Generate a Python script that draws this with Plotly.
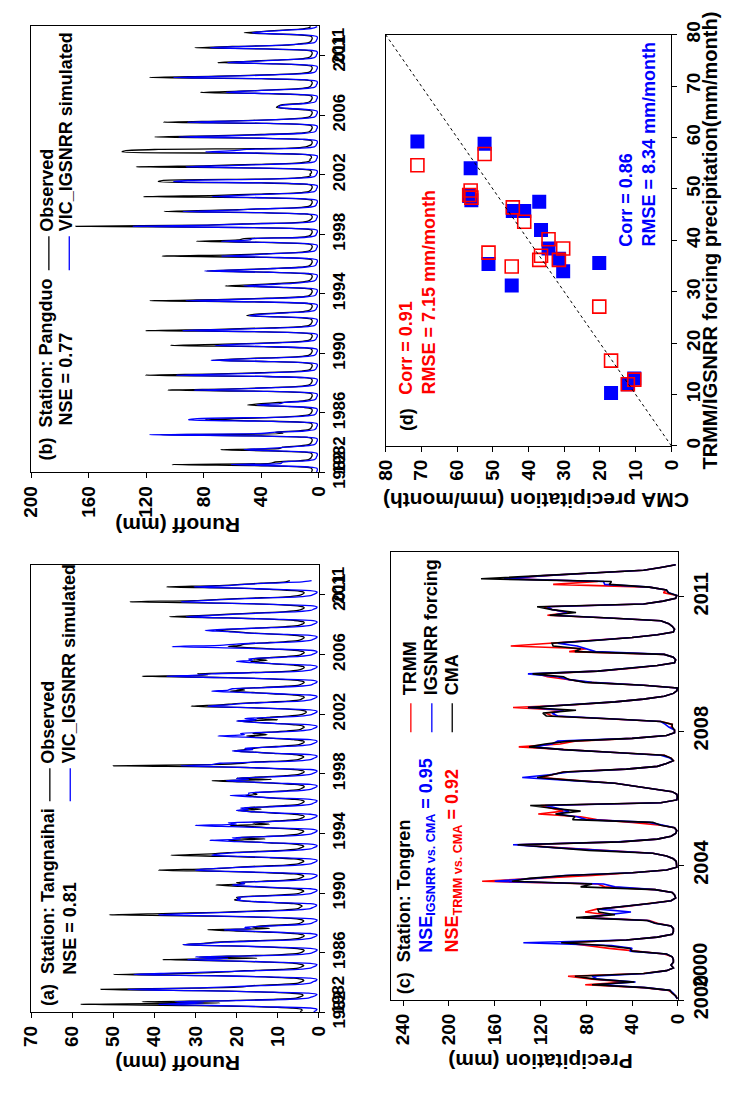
import plotly.graph_objects as go

W, H = 730, 1096
FONT = "Liberation Sans, Arial, sans-serif"


def px(X):
    return X / W


def py(Y):
    return 1 - Y / H


# ---------------- Panel (a) Tangnaihai runoff (mm), monthly 1982-2010 ----------------
a_years = list(range(1982, 2011))
a_observed = [
    [4.5, 4.0, 4.2, 6.5, 14, 30, 58, 24, 43, 22, 10, 5.5],
    [4.5, 3.8, 4.0, 7.0, 15, 28, 53, 30, 18.5, 16, 9, 5.0],
    [4.2, 3.6, 4.0, 6.0, 13, 25, 50, 30, 22.5, 18, 9, 5.0],
    [4.2, 3.6, 4.0, 6.0, 13, 24, 38, 15, 29, 18, 9, 5.0],
    [4.0, 3.5, 3.8, 6.0, 12, 22, 33, 28, 25, 17, 8, 4.8],
    [4.0, 3.5, 3.8, 6.0, 12, 20, 27, 12, 16, 14, 8, 4.8],
    [4.0, 3.6, 4.0, 6.0, 13, 26, 51, 38, 24, 16, 8, 5.0],
    [4.5, 4.0, 4.5, 6.0, 12, 18, 20.5, 19.5, 20, 16, 9, 5.0],
    [4.2, 3.6, 4.0, 6.0, 12, 19, 25, 18, 20, 14, 8, 5.0],
    [4.2, 3.6, 4.0, 6.0, 13, 24, 39, 27, 21, 16, 8, 5.0],
    [4.2, 3.6, 4.0, 6.0, 12, 22, 36, 26, 22, 15, 8, 5.0],
    [4.2, 3.6, 4.0, 6.0, 12, 18, 22, 13, 20, 14, 8, 5.0],
    [4.2, 3.6, 4.0, 6.0, 12, 16, 21.5, 12, 16, 13, 8, 4.8],
    [4.0, 3.5, 3.8, 6.0, 11, 16, 19.7, 14, 18, 13, 8, 4.8],
    [4.0, 3.5, 3.8, 6.0, 11, 15, 17.7, 15, 16, 12, 7.5, 4.6],
    [4.0, 3.5, 3.8, 6.0, 11, 18, 26, 11.5, 20, 14, 8, 4.8],
    [4.0, 3.5, 3.8, 6.0, 12, 22, 50, 26, 18.5, 16, 8, 5.0],
    [4.2, 3.6, 4.0, 6.0, 11, 16, 20.5, 18, 16, 13, 8, 4.8],
    [4.0, 3.5, 3.8, 6.0, 11, 15, 17.5, 12.5, 16, 12, 7.5, 4.6],
    [4.0, 3.5, 3.8, 6.0, 10, 15, 19.7, 10, 15, 12, 7.5, 4.6],
    [3.5, 3.0, 3.2, 5.0, 10, 20, 31, 24, 20, 14, 7.5, 4.6],
    [4.0, 3.5, 3.8, 6.0, 11, 16, 21.5, 18, 20, 14, 8, 4.8],
    [4.0, 3.5, 3.8, 6.0, 12, 22, 43, 27, 29.5, 17, 8, 5.0],
    [4.0, 3.5, 3.8, 6.0, 11, 14, 16.5, 12.5, 16, 12, 7.5, 4.6],
    [4.0, 3.5, 3.8, 6.0, 11, 16, 22, 19, 18, 13, 8, 4.8],
    [4.0, 3.5, 3.8, 6.0, 11, 17, 20.5, 25, 21, 14, 8, 4.8],
    [4.0, 3.5, 3.8, 6.0, 12, 22, 36.3, 28, 22, 15, 8, 5.0],
    [4.0, 3.5, 3.8, 6.0, 12, 24, 46, 30, 24, 16, 8, 5.0],
    [4.0, 3.5, 3.8, 6.0, 12, 20, 37, 25, 19, 14, 8, 7.0],
]
a_simulated = [
    [1.2, 0.6, 0.4, 2.0, 12, 26, 39, 28, 35, 20, 7, 2.5],
    [1.5, 0.7, 0.4, 2.5, 14, 31, 46.5, 32, 22, 14, 5, 2.0],
    [1.4, 0.6, 0.4, 2.0, 12, 28, 45, 36, 26, 15, 5, 2.0],
    [1.3, 0.6, 0.4, 2.0, 11, 22, 32, 22, 30, 16, 5, 2.0],
    [1.2, 0.5, 0.4, 2.0, 10, 21, 33, 27, 23, 14, 5, 2.0],
    [1.2, 0.5, 0.4, 2.0, 10, 18, 23, 16.5, 18, 12, 5, 2.0],
    [1.2, 0.5, 0.4, 2.0, 11, 24, 39, 32, 22, 13, 5, 2.0],
    [1.3, 0.6, 0.5, 2.0, 11, 17, 20, 19, 19.7, 14, 5, 2.0],
    [1.2, 0.5, 0.4, 2.0, 10, 17, 21, 18, 19, 12, 5, 2.0],
    [1.2, 0.5, 0.4, 2.0, 11, 22, 30, 27.5, 21, 13, 5, 2.0],
    [1.2, 0.5, 0.4, 2.0, 10, 19, 26, 24, 20, 12, 5, 2.0],
    [1.2, 0.5, 0.4, 2.0, 11, 20, 26.5, 19, 21, 13, 5, 2.0],
    [1.2, 0.5, 0.4, 2.0, 11, 21, 30, 20, 22, 12, 5, 2.0],
    [1.2, 0.5, 0.4, 2.0, 10, 16, 20, 17, 19, 12, 5, 2.0],
    [1.2, 0.5, 0.4, 2.0, 10, 16, 21.5, 17, 17, 11, 4.5, 2.0],
    [1.2, 0.5, 0.4, 2.0, 10, 17, 22.5, 17, 20, 12, 5, 2.0],
    [1.2, 0.5, 0.4, 2.0, 11, 22, 33.5, 26, 24, 14, 5, 2.0],
    [1.2, 0.5, 0.4, 2.0, 10, 16, 21, 16, 18, 12, 5, 2.0],
    [1.2, 0.5, 0.4, 2.0, 10, 18, 24.5, 18, 19, 11, 4.5, 2.0],
    [1.2, 0.5, 0.4, 2.0, 10, 16, 20, 15, 18, 11, 4.5, 2.0],
    [1.2, 0.5, 0.4, 2.0, 10, 19, 27, 22, 19, 12, 4.5, 2.0],
    [1.2, 0.5, 0.4, 2.0, 10, 18, 26, 22, 21, 13, 5, 2.0],
    [1.2, 0.5, 0.4, 2.0, 11, 24, 37, 29.5, 26, 14, 5, 2.0],
    [1.2, 0.5, 0.4, 2.0, 10, 16, 20, 16, 17, 11, 4.5, 2.0],
    [1.2, 0.5, 0.4, 2.0, 11, 23, 35.7, 24, 20, 12, 5, 2.0],
    [1.2, 0.5, 0.4, 2.0, 10, 18, 22, 27.6, 22, 13, 5, 2.0],
    [1.2, 0.5, 0.4, 2.0, 11, 22, 32.3, 26, 20, 13, 5, 2.0],
    [1.2, 0.5, 0.4, 2.0, 11, 24, 33.5, 28, 22, 14, 5, 2.0],
    [1.2, 0.5, 0.4, 2.0, 10, 18.7, 30.3, 22, 18, 12, 4, 1.7],
]

# ---------------- Panel (b) Pangduo runoff (mm), monthly 1982-2011 ----------------
b_years = list(range(1982, 2012))
b_observed = [
    [5, 4.5, 4.5, 5, 10, 40, 102, 33.8, 30, 14, 7, 5.5],
    [5, 4.5, 4.5, 5, 10, 35, 68, 27, 25, 13, 7, 5.5],
    [5, 4.5, 4.5, 5, 10, 40, 110, 24.8, 30, 14, 7, 5.5],
    [5, 4.5, 4.5, 5, 10, 35, 78.8, 58.6, 30, 14, 7, 5.5],
    [5, 4.5, 4.5, 5, 10, 28, 49.5, 40, 28, 13, 7, 5.5],
    [5, 4.5, 4.5, 5, 10, 38, 105, 60, 35, 14, 7, 5.5],
    [5, 4.5, 4.5, 5, 10, 40, 120.5, 70, 40, 15, 7, 5.5],
    [5, 4.5, 4.5, 5, 10, 35, 74, 60, 35, 14, 7, 5.5],
    [5, 4.5, 4.5, 5, 10, 38, 103, 65, 35, 14, 7, 5.5],
    [5, 4.5, 4.5, 5, 10, 40, 120.5, 70, 38, 15, 7, 5.5],
    [5, 4.5, 4.5, 5, 10, 28, 50, 45, 30, 13, 7, 5.5],
    [5, 4.5, 4.5, 5, 10, 40, 117.6, 65, 36, 14, 7, 5.5],
    [5, 4.5, 4.5, 5, 10, 32, 64.9, 45, 28, 13, 7, 5.5],
    [5, 4.5, 4.5, 5, 10, 35, 78, 55, 32, 14, 7, 5.5],
    [5, 4.5, 4.5, 5, 10, 40, 109, 60, 35, 14, 7, 5.5],
    [5, 4.5, 4.5, 5, 10, 38, 85, 56, 51.8, 15, 7, 5.5],
    [5, 4.5, 4.5, 5, 12, 50, 169, 80, 53, 16, 8, 6],
    [5, 4.5, 4.5, 5, 10, 40, 107.4, 70, 40, 15, 7, 5.5],
    [5, 4.5, 4.5, 5, 10, 42, 122, 70, 40, 15, 7, 5.5],
    [5, 4.5, 4.5, 5, 10, 40, 111.5, 108, 40, 15, 7, 5.5],
    [6, 5, 5, 5.5, 11, 45, 127, 75, 42, 16, 8, 6],
    [6, 5, 5, 5.5, 11, 48, 136.7, 134, 111.5, 20, 9, 6.5],
    [5, 4.5, 4.5, 5, 10, 42, 114, 70, 40, 15, 7, 5.5],
    [5, 4.5, 4.5, 5, 10, 40, 108, 60, 29.3, 14, 7, 5.5],
    [5, 4.5, 4.5, 5, 10, 22, 29.3, 28, 25, 12, 7, 5.5],
    [5, 4.5, 4.5, 5, 10, 35, 82.2, 55, 32, 14, 7, 5.5],
    [5, 4.5, 4.5, 5, 10, 40, 117.6, 70, 38, 15, 7, 5.5],
    [5, 4.5, 4.5, 5, 10, 32, 70.3, 50, 30, 13, 7, 5.5],
    [5, 4.5, 4.5, 5, 10, 38, 86, 60, 22.5, 14, 7, 5.5],
    [5, 4.5, 4.5, 5, 10, 28, 51.8, 40, 28, 13, 7, 5.5],
]
b_simulated = [
    [1.5, 1, 0.8, 1.2, 6, 30, 60.8, 26, 25, 9, 3, 1.8],
    [1.5, 1, 0.8, 1.2, 6, 28, 51.8, 35, 22, 9, 3, 1.8],
    [1.5, 1, 0.8, 1.2, 8, 45, 117.8, 40, 30, 10, 3, 1.8],
    [1.5, 1, 0.8, 1.2, 7, 40, 90.5, 84.5, 31.5, 10, 3, 1.8],
    [1.5, 1, 0.8, 1.2, 6, 25, 42.8, 27, 24, 9, 3, 1.8],
    [1.5, 1, 0.8, 1.2, 7, 35, 86.7, 55, 30, 10, 3, 1.8],
    [1.5, 1, 0.8, 1.2, 8, 38, 99, 60, 32, 10, 3, 1.8],
    [1.5, 1, 0.8, 1.2, 7, 33, 75, 55, 30, 10, 3, 1.8],
    [1.5, 1, 0.8, 1.2, 7, 32, 72, 55, 30, 10, 3, 1.8],
    [1.5, 1, 0.8, 1.2, 8, 36, 94.6, 60, 32, 10, 3, 1.8],
    [1.5, 1, 0.8, 1.2, 6, 26, 48.4, 40, 26, 9, 3, 1.8],
    [1.5, 1, 0.8, 1.2, 8, 36, 92.3, 58, 30, 10, 3, 1.8],
    [1.5, 1, 0.8, 1.2, 6, 28, 52, 35, 18, 9, 3, 1.8],
    [1.5, 1, 0.8, 1.2, 7, 34, 79.3, 52, 30, 10, 3, 1.8],
    [1.5, 1, 0.8, 1.2, 7, 32, 67.6, 45, 32, 10, 3, 1.8],
    [1.5, 1, 0.8, 1.2, 7, 32, 67.6, 48, 46, 10, 3, 1.8],
    [1.5, 1, 0.8, 1.2, 9, 45, 129.5, 75, 45, 11, 3, 1.8],
    [1.5, 1, 0.8, 1.2, 8, 38, 94.6, 60, 44, 10, 3, 1.8],
    [1.5, 1, 0.8, 1.2, 8, 35, 74.3, 55, 32, 10, 3, 1.8],
    [1.5, 1, 0.8, 1.2, 8, 38, 101, 91, 37, 10, 3, 1.8],
    [1.5, 1, 0.8, 1.2, 8, 38, 92.3, 60, 33, 10, 3, 1.8],
    [1.5, 1, 0.8, 1.2, 9, 40, 78.8, 58.6, 50, 12, 3, 1.8],
    [1.5, 1, 0.8, 1.2, 8, 38, 97.3, 60, 33, 10, 3, 1.8],
    [1.5, 1, 0.8, 1.2, 8, 36, 91.2, 55, 30, 10, 3, 1.8],
    [1.5, 1, 0.8, 1.2, 6, 20, 28, 27, 23, 9, 3, 1.8],
    [1.5, 1, 0.8, 1.2, 7, 32, 64.2, 50, 30, 10, 3, 1.8],
    [1.5, 1, 0.8, 1.2, 8, 38, 101, 62, 33, 10, 3, 1.8],
    [1.5, 1, 0.8, 1.2, 7, 30, 63.5, 45, 28, 9, 3, 1.8],
    [1.5, 1, 0.8, 1.2, 7, 35, 75.5, 52, 25, 10, 3, 1.8],
    [1.5, 1, 0.8, 1.2, 6, 26, 46.2, 38, 25, 9, 3, 1.0],
]

# ---------------- Panel (c) Tongren precipitation (mm), monthly 2000-2012 ----------------
c_years = list(range(2000, 2013))
c_trmm = [
    [0.5, 2, 5, 8, 30, 81, 45, 75, 96, 30, 10, 4],
    [6, 4, 4, 5, 12, 40, 60, 80, 100, 45, 18, 5],
    [4, 4, 6, 18, 25, 78, 62, 81, 71, 45, 25, 6],
    [2, 3, 5, 20, 64, 70, 171, 120, 75, 40, 10, 1],
    [1, 1.5, 4, 10, 22, 69, 105, 140, 50, 18, 6, 2],
    [1, 3, 15, 40, 71, 85, 122, 100, 110, 120, 15, 1],
    [0.5, 1, 5, 22, 40, 55, 90, 119, 110, 100, 45, 18],
    [10, 4, 6, 12, 55, 100, 139, 103, 90, 40, 10, 3],
    [3, 6, 5, 15, 60, 110, 115, 100, 144, 90, 55, 30],
    [12, 4, 1, 0.5, 30, 78, 95, 114, 122, 70, 40, 18],
    [3, 2, 4, 12, 95, 80, 146, 108, 70, 40, 18, 4],
    [3, 5, 8, 15, 60, 114, 95, 110, 117, 30, 13, 2],
    [1, 12.7, 10, 25, 109, 70, 150, 120, 75, 30, 15, 2],
]
c_igsnrr = [
    [0.5, 2, 4, 7, 28, 70, 37, 70, 75, 28, 10, 4],
    [6, 4, 4, 5, 10, 42, 40, 58, 135, 45, 18, 5],
    [4, 4, 6, 20, 26, 83, 60, 41, 69, 44, 24, 6],
    [2, 3, 5, 20, 55, 65, 160, 125, 99, 40, 10, 1],
    [1, 1.5, 4, 10, 22, 72, 108, 144, 52, 18, 6, 2],
    [1, 3, 15, 25, 80, 88, 106, 95, 105, 116, 15, 1],
    [0.5, 1, 5, 22, 40, 55, 95, 136, 112, 95, 45, 18],
    [10, 4, 7, 15, 55, 100, 127, 110, 105, 40, 10, 3],
    [3, 8, 11, 15, 60, 105, 110, 100, 131, 90, 55, 30],
    [12, 4, 1, 0.5, 30, 75, 95, 105, 131, 70, 40, 18],
    [3, 2, 4, 12, 72, 80, 88, 105, 70, 40, 18, 4],
    [3, 5, 8, 15, 60, 109, 97, 110, 114, 30, 13, 2],
    [1, 8, 10, 25, 64, 65, 152, 120, 75, 30, 15, 2],
]
c_cma = [
    [0.5, 2, 5, 7, 29, 75, 38, 72, 90, 30, 10, 4],
    [6, 4, 4, 5, 10, 40, 42, 65, 102, 45, 18, 5],
    [4, 4, 6, 20, 27, 89, 55, 69, 70, 45, 25, 6],
    [2, 3, 5, 20, 85, 75, 145, 130, 97, 40, 10, 1],
    [1, 1.5, 4, 10, 22, 78, 110, 140, 50, 18, 6, 2],
    [1, 3, 15, 22, 92, 90, 107, 85, 110, 129, 15, 1],
    [0.5, 1, 5, 22, 40, 55, 92, 123, 110, 100, 45, 18],
    [10, 4, 6, 12, 55, 100, 130, 116, 95, 40, 10, 3],
    [3, 5, 5, 15, 60, 115, 118, 89, 131, 90, 55, 30],
    [12, 4, 1, 0.5, 30, 81, 95, 100, 127, 70, 40, 18],
    [3, 2, 4, 12, 90, 85, 109, 110, 70, 40, 18, 4],
    [3, 5, 8, 15, 60, 112, 89, 110, 123, 30, 13, 2],
    [1, 8.5, 10, 25, 60, 58, 172, 120, 75, 30, 15, 2],
]

# ---------------- Panel (d) scatter (mm/month) ----------------
d_cma = [71.1, 52.3, 56.2, 56.6, 56.0, 37.0, 44.4, 41.2, 36.5, 34.4, 31.5, 30.3, 51.2, 44.7, 20.2, 16.9, 12.2, 10.4]
d_trmm = [54.6, 56.8, 49.7, 48.8, 48.3, 36.2, 46.4, 43.6, 37.0, 40.2, 36.2, 38.4, 37.6, 34.9, 27.1, 16.6, 12.0, 12.9]
d_igsnrr = [59.2, 58.8, 54.0, 48.6, 47.8, 47.5, 45.7, 45.7, 42.0, 38.4, 36.4, 34.0, 35.4, 31.2, 35.6, 10.3, 12.0, 13.1]

runoff_tick_dates = ["1982-01-01", "1986-01-01", "1990-01-01", "1994-01-01",
                     "1998-01-01", "2002-01-01", "2006-01-01", "2010-01-01"]
runoff_tick_text = ["1982", "1986", "1990", "1994", "1998", "2002", "2006", "2011"]
precip_tick_dates = ["2000-01-01", "2004-01-01", "2008-01-01", "2012-01-01"]
precip_tick_text = ["2000", "2004", "2008", "2011"]
a_value_ticks = [0, 10, 20, 30, 40, 50, 60, 70]
b_value_ticks = [0, 40, 80, 120, 160, 200]
c_value_ticks = [0, 40, 80, 120, 160, 200, 240]
d_ticks = [0, 10, 20, 30, 40, 50, 60, 70, 80]


def flatten(rows):
    return [v for r in rows for v in r]


def month_dates(years):
    return [f"{y}-{m:02d}-15" for y in years for m in range(1, 13)]


def bold(vals):
    return [f"<b>{v}</b>" for v in vals]


fig = go.Figure()

# panel a
fig.add_trace(go.Scatter(x=flatten(a_observed), y=month_dates(a_years), mode="lines",
                         line=dict(color="black", width=1.3, shape="spline", smoothing=0.7),
                         xaxis="x", yaxis="y"))
fig.add_trace(go.Scatter(x=flatten(a_simulated), y=month_dates(a_years), mode="lines",
                         line=dict(color="#0000FF", width=1.3, shape="spline", smoothing=0.7),
                         xaxis="x", yaxis="y"))
# panel b
fig.add_trace(go.Scatter(x=flatten(b_observed), y=month_dates(b_years), mode="lines",
                         line=dict(color="black", width=1.3, shape="spline", smoothing=0.7),
                         xaxis="x2", yaxis="y2"))
fig.add_trace(go.Scatter(x=flatten(b_simulated), y=month_dates(b_years), mode="lines",
                         line=dict(color="#0000FF", width=1.3, shape="spline", smoothing=0.7),
                         xaxis="x2", yaxis="y2"))
# panel c
for series, col in ((c_trmm, "#FF0000"), (c_igsnrr, "#0000FF"), (c_cma, "black")):
    fig.add_trace(go.Scatter(x=flatten(series), y=month_dates(c_years), mode="lines",
                             line=dict(color=col, width=1.6),
                             xaxis="x3", yaxis="y3"))
# panel d
fig.add_trace(go.Scatter(x=d_cma, y=d_igsnrr, mode="markers",
                         marker=dict(symbol="square", size=14, color="#0000FF",
                                     line=dict(width=0)),
                         xaxis="x4", yaxis="y4"))
fig.add_trace(go.Scatter(x=d_cma, y=d_trmm, mode="markers",
                         marker=dict(symbol="square-open", size=13, color="#FF0000",
                                     line=dict(width=1.6, color="#FF0000")),
                         xaxis="x4", yaxis="y4"))


def tf(size):
    return dict(family=FONT, size=size, color="black", weight="bold")


base = dict(showline=True, linecolor="black", linewidth=1, mirror=True, ticks="outside",
            ticklen=5, tickwidth=1, tickcolor="black", tickangle=-90,
            showgrid=False, zeroline=False)

XA = (px(20.7), px(316.7))
XC = (px(391), px(686.7))
XD = (px(385.7), px(680))

fig.update_layout(
    width=W, height=H, margin=dict(l=0, r=0, t=0, b=0),
    paper_bgcolor="white", plot_bgcolor="white", showlegend=False,
    xaxis=dict(base, domain=list(XA), anchor="y", range=[70, 0], tickfont=tf(19),
               tickvals=a_value_ticks, ticktext=bold(a_value_ticks)),
    yaxis=dict(base, domain=[py(1029.3), py(568.7)], anchor="x", side="right", type="date",
               range=["1982-01-01", "2012-01-01"], tickvals=runoff_tick_dates, tickfont=tf(17),
               ticktext=bold(runoff_tick_text)),
    xaxis2=dict(base, domain=list(XA), anchor="y2", range=[200, 0], tickfont=tf(19),
                tickvals=b_value_ticks, ticktext=bold(b_value_ticks)),
    yaxis2=dict(base, domain=[py(473.3), py(13.3)], anchor="x2", side="right", type="date",
                range=["1982-01-01", "2012-01-01"], tickvals=runoff_tick_dates, tickfont=tf(17),
                ticktext=bold(runoff_tick_text)),
    xaxis3=dict(base, domain=list(XC), anchor="y3", range=[250.8, 0], tickfont=tf(19),
                tickvals=c_value_ticks, ticktext=bold(c_value_ticks)),
    yaxis3=dict(base, domain=[py(1016.7), py(555.3)], anchor="x3", side="right", type="date",
                range=["2000-01-01", "2013-05-01"], tickvals=precip_tick_dates, tickfont=tf(20),
                ticktext=bold(precip_tick_text)),
    xaxis4=dict(base, domain=list(XD), anchor="y4", range=[80, 0], tickfont=tf(19),
                tickvals=d_ticks, ticktext=bold(d_ticks)),
    yaxis4=dict(base, domain=[py(446), py(22.3)], anchor="x4", side="right", range=[0, 80],
                tickfont=tf(19), tickvals=d_ticks, ticktext=bold(d_ticks)),
)

# 1:1 reference line in panel d
fig.add_shape(type="line", xref="x4", yref="y4", x0=0, y0=0, x1=80, y1=80,
              line=dict(color="black", width=1, dash="dot"))

ann = []


def text_up(X, Y, txt, color="black", size=18, anchor="bottom"):
    ann.append(dict(x=px(X), y=py(Y), xref="paper", yref="paper", text=f"<b>{txt}</b>",
                    showarrow=False, textangle=-90, xanchor="center", yanchor=anchor,
                    font=dict(family=FONT, size=size, color=color, weight="bold")))


def title_flip(X, Y, txt, size=21):
    ann.append(dict(x=px(X), y=py(Y), xref="paper", yref="paper", text=f"<b>{txt}</b>",
                    showarrow=False, textangle=180, xanchor="center", yanchor="middle",
                    font=dict(family=FONT, size=size, color="black", weight="bold")))


def vline(X, Y0, Y1, color):
    fig.add_shape(type="line", xref="paper", yref="paper", x0=px(X), x1=px(X),
                  y0=py(Y0), y1=py(Y1), line=dict(color=color, width=1.3))


# panel b texts
text_up(37, 463, "(b)  Station: Pangduo")
text_up(57, 427, "NSE = 0.77")
vline(39, 230, 265, "black")
vline(60, 230, 265, "#0000FF")
text_up(37, 227, "Observed")
text_up(57, 227, "VIC_IGSNRR simulated")
title_flip(172, 528, "Runoff (mm)")

# panel a texts
text_up(38, 1025, "(a)  Station: Tangnaihai")
text_up(60, 993, "NSE = 0.81")
vline(40, 778, 812, "black")
vline(61, 778, 812, "#0000FF")
text_up(38, 775, "Observed")
text_up(60, 775, "VIC_IGSNRR simulated")
title_flip(172, 1082, "Runoff (mm)")

# extra time labels
for yref, d, t in (("y", "1983-03-01", "1982"), ("y", "2010-09-01", "2011"),
                   ("y2", "1983-03-01", "1982"), ("y2", "2010-09-01", "2011")):
    ann.append(dict(x=px(337.5), y=d, xref="paper", yref=yref, text=f"<b>{t}</b>",
                    showarrow=False, textangle=-90, xanchor="center", yanchor="middle",
                    font=tf(17)))
ann.append(dict(x=px(709), y="2001-01-20", xref="paper", yref="y3", text="<b>2000</b>",
                showarrow=False, textangle=-90, xanchor="center", yanchor="middle",
                font=tf(20)))

# panel c texts
text_up(405, 1013, "(c)  Station: Tongren")
text_up(428, 970, "NSE<sub>IGSNRR vs. CMA</sub> = 0.95", color="#0000FF")
text_up(456, 970, "NSE<sub>TRMM vs. CMA</sub> = 0.92", color="#FF0000")
vline(411.7, 711, 741, "#FF0000")
vline(433.3, 711, 741, "#0000FF")
vline(454.3, 711, 741, "black")
text_up(411.7, 705, "TRMM")
text_up(433.3, 705, "IGSNRR forcing")
text_up(454.3, 705, "CMA")
title_flip(545, 1080, "Precipitation (mm)")

# panel d texts
text_up(408, 433, "(d)")
text_up(407, 395, "Corr = 0.91", color="#FF0000")
text_up(430, 395, "RMSE = 7.15 mm/month", color="#FF0000")
text_up(633, 243, "Corr = 0.86", color="#0000FF")
text_up(657, 243, "RMSE = 8.34 mm/month", color="#0000FF")
title_flip(540, 502, "CMA precipitation (mm/month)")
ann.append(dict(x=px(720), y=py(234), xref="paper", yref="paper",
                text="<b>TRMM/IGSNRR forcing precipitation(mm/month)</b>", showarrow=False,
                textangle=-90, xanchor="center", yanchor="middle",
                font=dict(family=FONT, size=20, color="black", weight="bold")))

fig.update_layout(annotations=ann)
fig.write_html("out.html")
